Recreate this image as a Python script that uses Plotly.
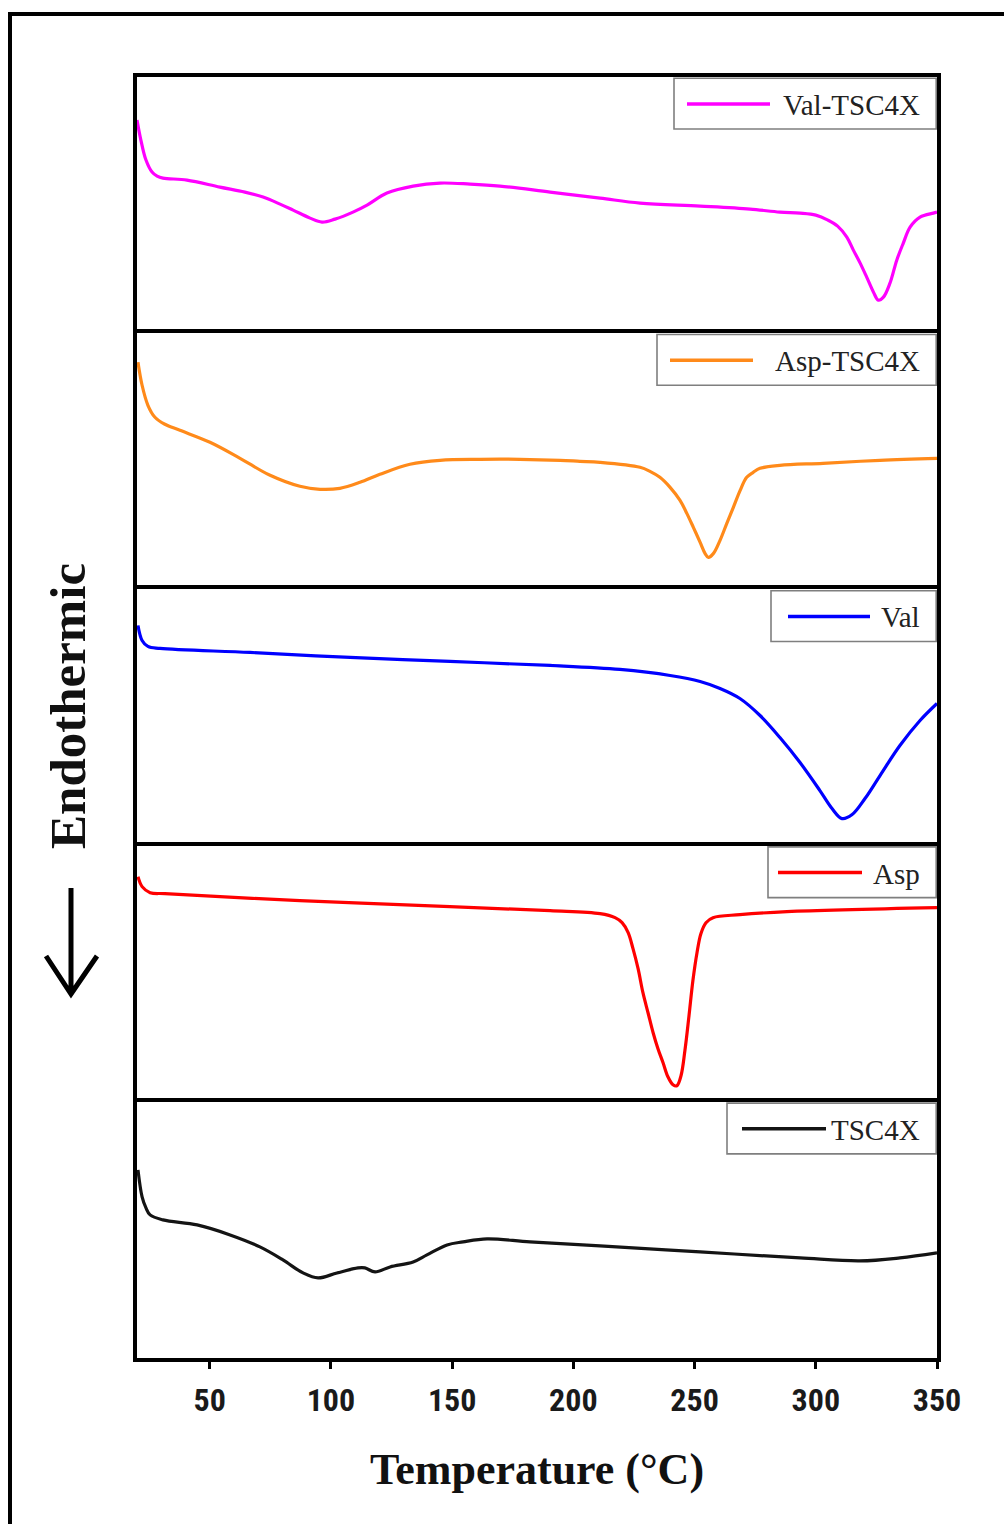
import plotly.graph_objects as go
from plotly.subplots import make_subplots

# ---------------- data (heat flow in arbitrary units) ----------------
series_names = ["Val-TSC4X", "Asp-TSC4X", "Val", "Asp", "TSC4X"]
series_colors = ["#FF00FF", "#FF8A1A", "#0000FF", "#FF0000", "#141414"]

temp_val_tsc4x = [20.0, 21.6, 23.7, 26.2, 28.3, 30.7, 40.6, 54.2, 64.5, 72.0, 79.0, 84.4, 91.4, 96.3,
                  101.7, 109.1, 114.9, 123.1, 133.9, 145.0, 157.4, 169.7, 190.4, 211.0, 227.5, 252.3,
                  272.9, 285.2, 293.5, 300.0, 305.0, 309.0, 312.8, 315.5, 318.3, 321.0, 323.8, 325.8,
                  327.9, 330.6, 333.4, 336.1, 338.9, 343.0, 348.5, 350.0]
heat_val_tsc4x = [213, 193, 173, 161, 157, 155, 153, 146, 141, 136, 129, 123, 115, 111,
                  114, 121, 128, 140, 147, 150, 149, 147, 141, 135, 130, 127,
                  124, 121, 120, 118, 113, 107, 96, 83, 70, 56, 41, 33,
                  36, 50, 73, 90, 106, 116, 120, 121]

temp_asp_tsc4x = [20.4, 22.1, 24.5, 27.4, 31.5, 37.7, 50.1, 62.5, 74.9, 87.2, 95.5, 103.7, 112.0,
                  120.2, 132.6, 145.0, 161.5, 178.0, 194.5, 202.7, 211.0, 227.5, 231.6, 235.7, 239.9,
                  244.0, 246.8, 249.5, 252.3, 254.3, 255.7, 257.8, 260.5, 263.3, 266.0, 268.8, 271.5,
                  274.2, 277.0, 285.2, 303.0, 326.5, 350.0]
heat_asp_tsc4x = [227, 204, 184, 172, 165, 159, 147, 131, 114, 103, 100, 101, 107,
                  115, 125, 129, 130, 130, 129, 128, 127, 122, 118, 112, 102,
                  89, 76, 62, 47, 36, 32, 36, 49, 66, 82, 99, 112,
                  117, 121, 124, 126, 129, 131]

temp_val = [20.4, 22.1, 24.5, 29.5, 66.6, 107.9, 149.1, 190.4, 219.2, 239.9, 252.3, 260.5, 268.7,
            277.0, 285.2, 293.5, 301.7, 306.7, 310.8, 315.0, 320.3, 326.5, 334.7, 343.0, 350.0]
heat_val = [220, 205, 199, 197, 193, 188, 184, 180, 176, 170, 164, 157, 147,
            130, 108, 83, 55, 37, 27, 31, 47, 70, 100, 125, 142]

temp_asp = [20.4, 22.1, 25.4, 31.5, 87.2, 149.1, 190.4, 211.0, 217.2, 220.1, 222.6, 224.6, 226.7,
            228.7, 230.8, 232.9, 234.9, 237.0, 239.0, 241.1, 242.7, 244.4, 246.0, 247.7, 249.3,
            251.0, 252.6, 254.7, 257.6, 268.7, 288.1, 350.0]
heat_asp = [225, 215, 209, 208, 201, 195, 191, 188, 184, 179, 169, 153, 133,
            109, 89, 69, 53, 39, 25, 17, 16, 26, 51, 86, 121,
            149, 168, 179, 184, 187, 190, 194]

temp_tsc4x = [20.4, 22.1, 23.7, 25.4, 30.7, 44.8, 58.4, 70.7, 80.2, 88.5, 94.7, 102.5, 111.2, 114.0,
              118.2, 124.4, 133.9, 139.6, 147.9, 154.5, 164.4, 182.1, 211.0, 252.3, 293.5, 318.2,
              334.7, 350.0]
heat_tsc4x = [188, 161, 150, 143, 138, 133, 123, 111, 98, 85, 80, 85, 90, 90,
              86, 91, 96, 103, 113, 116, 119, 116, 112, 106, 100, 97,
              100, 105]

x_tick_values = [50, 100, 150, 200, 250, 300, 350]
x_tick_labels = ["50", "100", "150", "200", "250", "300", "350"]
x_major_ticks = [100, 200, 300]

all_temps = [temp_val_tsc4x, temp_asp_tsc4x, temp_val, temp_asp, temp_tsc4x]
all_heats = [heat_val_tsc4x, heat_asp_tsc4x, heat_val, heat_asp, heat_tsc4x]

# ---------------- figure ----------------
W, H = 1004, 1524
ML, MR, MT, MB = 137, 67, 77, 166
PW, PH = W - ML - MR, H - MT - MB

def px_x(px):
    return (px - ML) / PW

def px_y(py):
    return (H - MB - py) / PH

fig = make_subplots(rows=5, cols=1, shared_xaxes=True, vertical_spacing=0)

for i, (name, col, t, h) in enumerate(zip(series_names, series_colors, all_temps, all_heats)):
    fig.add_trace(go.Scatter(x=t, y=h, mode="lines", name=name,
                             line=dict(color=col, width=3.2, shape="spline", smoothing=1.0),
                             showlegend=False),
                  row=i + 1, col=1)

axis_common = dict(showgrid=False, zeroline=False, showline=True,
                   linecolor="black", linewidth=4)
for i in range(1, 6):
    fig.update_yaxes(axis_common, mirror=True, range=[0, 256], showticklabels=False, ticks="",
                     row=i, col=1)
    if i < 5:
        # line drawn only along the top edge of each upper panel
        fig.update_xaxes(axis_common, mirror=False, side="top", range=[20, 350],
                         showticklabels=False, ticks="", row=i, col=1)
    else:
        fig.update_xaxes(axis_common, mirror=True, side="bottom", range=[20, 350], row=i, col=1)

fig.update_xaxes(row=5, col=1, tickvals=x_tick_values, ticktext=x_tick_labels,
                 ticks="outside", ticklen=7, tickwidth=3, tickcolor="black",
                 tickfont=dict(family="Liberation Sans Narrow, Arial Narrow, Roboto Condensed, Liberation Sans, sans-serif",
                               size=32, color="#1a1a1a", weight="bold"),
                 ticklabelstandoff=4,
                 title=dict(text="Temperature (°C)", standoff=36,
                            font=dict(family="Liberation Serif, DejaVu Serif, serif", size=44,
                                      color="#111111", weight="bold")))

# longer ticks at 100, 200, 300
fig.update_layout(xaxis6=dict(overlaying="x5", anchor="y5", side="bottom", range=[20, 350],
                              tickvals=x_major_ticks, showticklabels=False, ticks="outside",
                              ticklen=15, tickwidth=3, tickcolor="black", showgrid=False,
                              zeroline=False, showline=False))

# ---------------- keys (one boxed key per panel, top right) ----------------
key_box_left = [674, 657, 771, 768, 727]
key_line_px = [(687, 770), (670, 753), (788, 870), (778, 862), (742, 826)]
key_font = dict(family="Liberation Serif, DejaVu Serif, serif", size=29, color="#222222")
shapes = []
annotations = []
for i, name in enumerate(series_names):
    xd = "x domain" if i == 0 else f"x{i + 1} domain"
    yd = "y domain" if i == 0 else f"y{i + 1} domain"
    shapes.append(dict(type="rect", xref=xd, yref=yd, x0=px_x(key_box_left[i]), x1=0.999,
                       y0=1 - 52 / 256, y1=0.995, line=dict(color="#7f7f7f", width=1.6),
                       fillcolor="white", layer="above"))
    shapes.append(dict(type="line", xref=xd, yref=yd, x0=px_x(key_line_px[i][0]),
                       x1=px_x(key_line_px[i][1]), y0=1 - 27 / 256, y1=1 - 27 / 256,
                       line=dict(color=series_colors[i], width=3.5), layer="above"))
    annotations.append(dict(xref=xd, yref=yd, x=px_x(922), y=1 - 28 / 256, text=name,
                            showarrow=False, xanchor="right", yanchor="middle", font=key_font))

# outer frame of the figure
shapes.append(dict(type="rect", xref="paper", yref="paper", x0=px_x(10), x1=px_x(1030),
                   y0=px_y(1527), y1=px_y(14), line=dict(color="black", width=4),
                   fillcolor="rgba(0,0,0,0)", layer="above"))

# arrow "Endothermic" (down)
ax = px_x(71)
shapes.append(dict(type="path", xref="paper", yref="paper",
                   path=(f"M {ax},{px_y(888)} L {ax},{px_y(993)} "
                         f"M {px_x(46)},{px_y(956)} L {ax},{px_y(994)} L {px_x(97)},{px_y(956)}"),
                   line=dict(color="black", width=5)))
annotations.append(dict(xref="paper", yref="paper", x=px_x(68), y=px_y(706), text="Endothermic",
                        textangle=-90, showarrow=False, xanchor="center", yanchor="middle",
                        font=dict(family="Liberation Serif, DejaVu Serif, serif", size=51,
                                  color="#111111", weight="bold")))

fig.update_layout(width=W, height=H, margin=dict(l=ML, r=MR, t=MT, b=MB),
                  paper_bgcolor="white", plot_bgcolor="white",
                  shapes=shapes, annotations=annotations, showlegend=False)

fig.write_html("out.html")
